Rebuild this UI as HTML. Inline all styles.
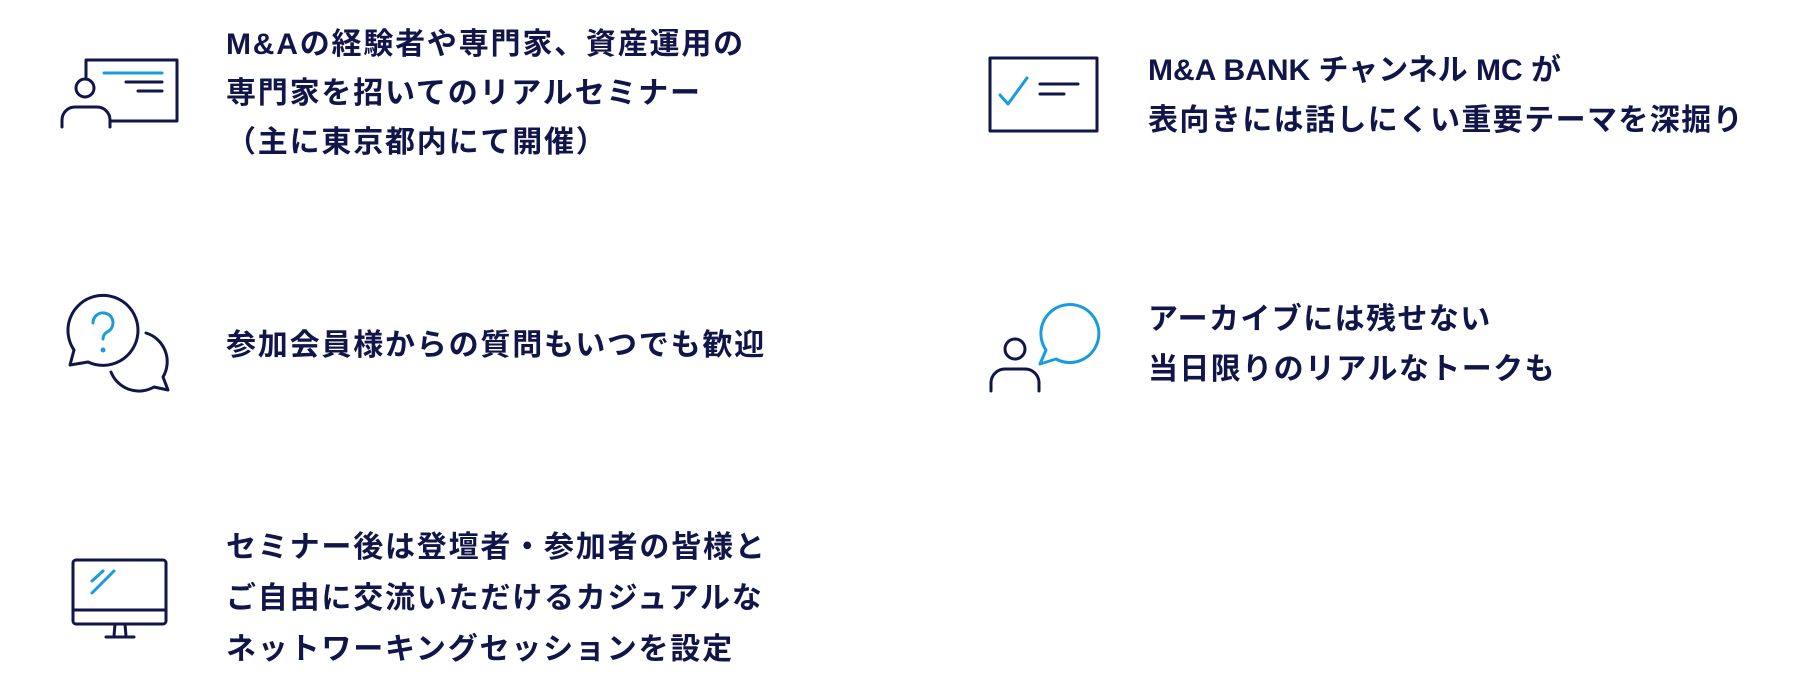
<!DOCTYPE html>
<html><head><meta charset="utf-8"><style>
html,body{margin:0;padding:0;background:#fff;}
body{width:1814px;height:689px;position:relative;overflow:hidden;font-family:"Liberation Sans","Noto Sans CJK JP",sans-serif;font-weight:bold;color:#11154a;}
.t{position:absolute;font-size:30px;line-height:49px;letter-spacing:1.8px;white-space:nowrap;}
.r{letter-spacing:1.4px;line-height:50px;font-size:30px;}
svg{position:absolute;left:0;top:0;}
</style></head><body>
<svg width="1814" height="689" fill="none" stroke-linecap="round" stroke-linejoin="round">
<g stroke="#11154a" stroke-width="3">
<path d="M86 77 V60 H177 V121 H110"/>
<circle cx="85" cy="88" r="9"/>
<path d="M62 127 V120 a13 13 0 0 1 13 -13 H97 a13 13 0 0 1 13 13 V127"/>
<line x1="126" y1="82" x2="162" y2="82"/>
<line x1="138" y1="91" x2="162" y2="91"/>
<path d="M74 350 A35 35 0 1 1 88 362 L70 365 Z" />
<path d="M146 333 A30 30 0 0 1 163 377 L168 390 L154 387 A30 30 0 0 1 111 372"/>
<rect x="73" y="560" width="93" height="64" rx="3"/>
<line x1="73" y1="610" x2="166" y2="610"/>
<path d="M115 624 L114 636 M125 624 L126 636"/>
<line x1="106" y1="637" x2="134" y2="637"/>
<rect x="990" y="58" width="107" height="73"/>
<line x1="1040" y1="84" x2="1078" y2="84"/>
<line x1="1040" y1="94" x2="1064" y2="94"/>
<circle cx="1015" cy="349" r="10"/>
<path d="M991 391 V383 a14 14 0 0 1 14 -14 H1025 a14 14 0 0 1 14 14 V391"/>
</g>
<g stroke="#1a9be0" stroke-width="3">
<line x1="104" y1="73" x2="162" y2="73"/>
<path d="M93 323 a10 10 0 1 1 14 9 c-3 2 -4 4 -4 7" />
<line x1="92" y1="581" x2="103" y2="571"/>
<line x1="92" y1="593" x2="114" y2="571"/>
<path d="M1000 95 L1008 104 L1027 78"/>
<path d="M1046 350 A29 29 0 1 1 1056 359 L1040 364 Z"/>
</g>
<circle cx="103" cy="350" r="2.5" fill="#1a9be0"/>
</svg>
<div class="t" style="left:226px;top:20px;">M&amp;Aの経験者や専門家、資産運用の<br>専門家を招いてのリアルセミナー<br>（主に東京都内にて開催）</div>
<div class="t" style="left:226px;top:321px;">参加会員様からの質問もいつでも歓迎</div>
<div class="t" style="left:226px;top:522px;line-height:51px;">セミナー後は登壇者・参加者の皆様と<br>ご自由に交流いただけるカジュアルな<br>ネットワーキングセッションを設定</div>
<div class="t r" style="left:1148px;top:46px;letter-spacing:0px;">M&amp;A BANK チャンネル MC が</div>
<div class="t r" style="left:1148px;top:96px;">表向きには話しにくい重要テーマを深掘り</div>
<div class="t r" style="left:1148px;top:295px;">アーカイブには残せない<br>当日限りのリアルなトークも</div>
</body></html>
